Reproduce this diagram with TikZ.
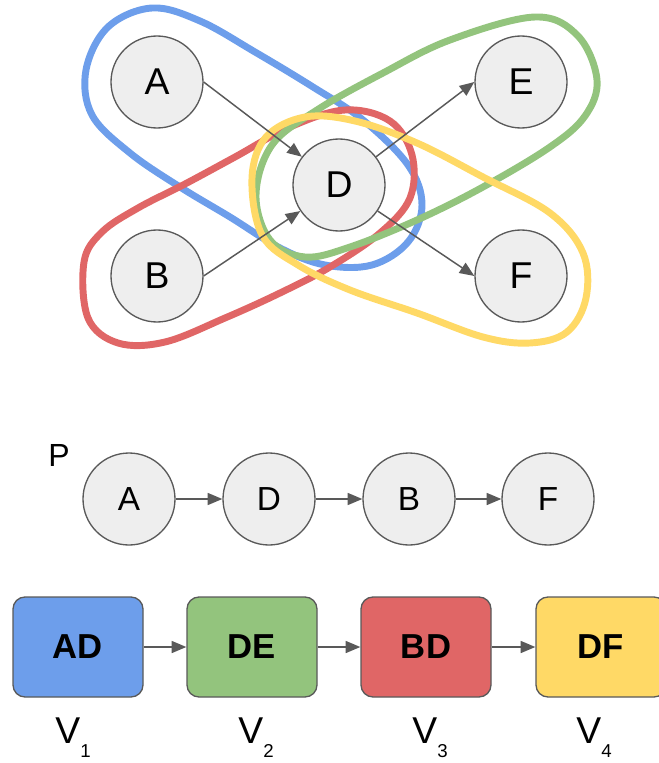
\documentclass[tikz,border=0pt]{standalone}
\usepackage{fontspec}
\setmainfont{Liberation Sans}
\usetikzlibrary{arrows.meta, positioning}

\definecolor{hblue}{HTML}{6D9EEB}
\definecolor{hgreen}{HTML}{93C47D}
\definecolor{hred}{HTML}{E06666}
\definecolor{hyellow}{HTML}{FFD966}
\definecolor{vfill}{HTML}{EEEEEE}
\definecolor{linegray}{HTML}{595959}

% label V with a dropped index
\newcommand{\vname}[1]{V\raisebox{-11pt}{\fontsize{14}{16}\selectfont #1}}

\begin{document}
\begin{tikzpicture}[x=0.75pt, y=-0.75pt,
		>={Triangle[length=11pt, width=9pt]},
		vert/.style={circle, draw=linegray, line width=1pt, fill=vfill,
			minimum size=69pt, inner sep=0pt, font=\fontsize{28}{30}\selectfont},
		pvert/.style={vert, font=\fontsize{25}{28}\selectfont},
		hedge/.style={line width=5.2pt, line join=round},
		conn/.style={->, draw=linegray, fill=linegray, line width=1.1pt},
		vbox/.style={rectangle, rounded corners=9pt, draw=linegray, line width=1pt,
			minimum width=97.5pt, minimum height=75pt,
			font=\bfseries\fontsize{26}{28}\selectfont},
		vlab/.style={anchor=base, font=\fontsize{28}{30}\selectfont}]
	
	\useasboundingbox (0,0) rectangle (659,763);
	
	% hyperedges
	\draw[hedge, hblue] plot[smooth cycle, tension=0.6] coordinates {
		(152,8)(108,27)(86,70)(92,115)(130,153)(180,187)
		(230,217)(280,248)(325,265)(372,265)(408,242)(422,205)
		(408,165)(363,120)(313,87)(255,52)(200,21)
	};
	\draw[hedge, hred] plot[smooth cycle, tension=0.6] coordinates {
		(84,262)(102,232)(138,208)(185,184)(235,157)(290,127)(345,110)
		(390,121)(412,155)(410,198)(380,233)(330,267)(280,293)(225,318)
		(165,342)(118,343)(88,318)
	};
	\draw[hedge, hgreen] plot[smooth cycle, tension=0.6] coordinates {
		(535,17)(578,36)(597,80)(585,116)(550,147)(483,187)(417,220)
		(350,247)(305,257)(270,240)(256,195)(272,145)(317,110)
		(383,73)(450,40)
	};
	\draw[hedge, hyellow] plot[smooth cycle, tension=0.6] coordinates {
		(252,178)(266,137)(305,117)(355,121)(417,143)(483,177)(550,213)
		(583,253)(586,298)(567,332)(530,343)(483,337)(417,313)(350,290)
		(298,265)(262,235)
	};
	
	% graph
	\node[vert] (a) at (157,82) {A};
	\node[vert] (b) at (157,276) {B};
	\node[vert] (d) at (339,185) {D};
	\node[vert] (e) at (521,82) {E};
	\node[vert] (f) at (521,276) {F};
	
	\draw[conn] (a.east) -- (d);
	\draw[conn] (b.east) -- (d);
	\draw[conn] (d) -- (e.west);
	\draw[conn] (d) -- (f.west);
	
	% path P
	\node[font=\fontsize{24}{26}\selectfont] (plab) at (59,455) {P};
	\node[pvert] (pa) at (129,499) {A};
	\node[pvert] (pd) at (269,499) {D};
	\node[pvert] (pb) at (409,499) {B};
	\node[pvert] (pf) at (548,499) {F};
	
	\draw[conn] (pa) -- (pd);
	\draw[conn] (pd) -- (pb);
	\draw[conn] (pb) -- (pf);
	
	% sequence of hyperedges
	\node[vbox, fill=hblue] (v1) at (78,647) {AD};
	\node[vbox, fill=hgreen] (v2) at (252,647) {DE};
	\node[vbox, fill=hred] (v3) at (426,647) {BD};
	\node[vbox, fill=hyellow] (v4) at (601,647) {DF};
	
	\draw[conn] (v1) -- (v2);
	\draw[conn] (v2) -- (v3);
	\draw[conn] (v3) -- (v4);
	
	\node[vlab] (l1) at (73,743) {\vname{1}};
	\node[vlab] (l2) at (256,743) {\vname{2}};
	\node[vlab] (l3) at (430,743) {\vname{3}};
	\node[vlab] (l4) at (594,743) {\vname{4}};
	
\end{tikzpicture}
\end{document}
